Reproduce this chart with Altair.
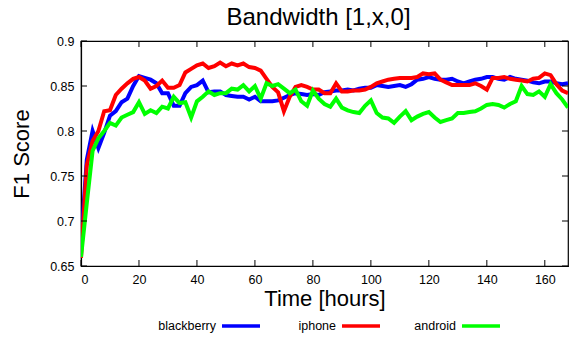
import altair as alt
import pandas as pd

hours = list(range(0, 169, 2))

blackberry = [0.676, 0.768, 0.800, 0.781, 0.798, 0.817, 0.822, 0.832, 0.836, 0.850,
              0.861, 0.859, 0.857, 0.853, 0.842, 0.842, 0.828, 0.828, 0.842, 0.849,
              0.851, 0.856, 0.843, 0.844, 0.844, 0.840, 0.839, 0.838, 0.838, 0.835,
              0.838, 0.833, 0.833, 0.833, 0.834, 0.837, 0.840, 0.842, 0.841, 0.840,
              0.841, 0.840, 0.843, 0.844, 0.845, 0.845, 0.846, 0.845, 0.847, 0.848,
              0.848, 0.851, 0.850, 0.849, 0.850, 0.851, 0.849, 0.852, 0.857, 0.858,
              0.860, 0.858, 0.857, 0.857, 0.858, 0.855, 0.853, 0.855, 0.857, 0.858,
              0.860, 0.860, 0.858, 0.857, 0.860, 0.858, 0.857, 0.856, 0.854, 0.853,
              0.855, 0.855, 0.853, 0.852, 0.853]

iphone = [0.659, 0.762, 0.789, 0.800, 0.822, 0.823, 0.840, 0.847, 0.853, 0.858,
          0.860, 0.856, 0.847, 0.850, 0.856, 0.848, 0.848, 0.851, 0.865, 0.869,
          0.873, 0.875, 0.870, 0.872, 0.876, 0.872, 0.875, 0.873, 0.875, 0.871,
          0.870, 0.867, 0.858, 0.849, 0.843, 0.822, 0.838, 0.849, 0.851, 0.849,
          0.846, 0.846, 0.842, 0.842, 0.853, 0.844, 0.844, 0.845, 0.845, 0.846,
          0.849, 0.853, 0.855, 0.857, 0.858, 0.859, 0.859, 0.859, 0.860, 0.864,
          0.863, 0.864, 0.857, 0.854, 0.851, 0.851, 0.851, 0.851, 0.853, 0.850,
          0.846, 0.859, 0.859, 0.860, 0.858, 0.857, 0.856, 0.855, 0.858, 0.859,
          0.864, 0.862, 0.852, 0.845, 0.842]

android = [0.660, 0.720, 0.778, 0.792, 0.800, 0.809, 0.806, 0.815, 0.818, 0.821,
           0.832, 0.819, 0.823, 0.820, 0.827, 0.825, 0.838, 0.831, 0.832, 0.815,
           0.833, 0.838, 0.844, 0.840, 0.842, 0.842, 0.847, 0.846, 0.851, 0.844,
           0.850, 0.836, 0.853, 0.850, 0.852, 0.847, 0.842, 0.846, 0.833, 0.828,
           0.845, 0.836, 0.830, 0.827, 0.836, 0.826, 0.823, 0.821, 0.820, 0.828,
           0.834, 0.820, 0.815, 0.814, 0.809, 0.816, 0.822, 0.812, 0.816, 0.819,
           0.821, 0.815, 0.810, 0.812, 0.814, 0.820, 0.820, 0.821, 0.822, 0.825,
           0.829, 0.830, 0.829, 0.826, 0.830, 0.833, 0.850, 0.841, 0.840, 0.844,
           0.838, 0.852, 0.842, 0.835, 0.826]

series_names = ["blackberry", "iphone", "android"]
series_colors = ["#0000ff", "#ff0000", "#00ff00"]
x_ticks = [0, 20, 40, 60, 80, 100, 120, 140, 160]
y_ticks = [0.65, 0.7, 0.75, 0.8, 0.85, 0.9]

FONT = "Liberation Sans"
W, H = 487, 225

rows = []
for name, vals in zip(series_names, [blackberry, iphone, android]):
    for h, v in zip(hours, vals):
        rows.append({"hour": h, "f1": v, "device": name})
df = pd.DataFrame(rows)

xscale = alt.Scale(domain=[0, 168], nice=False, zero=False)
yscale = alt.Scale(domain=[0.65, 0.9], nice=False, zero=False)

lines = alt.Chart(df).mark_line(strokeWidth=4, clip=True).encode(
    x=alt.X("hour:Q", scale=xscale,
            axis=alt.Axis(values=x_ticks, title="Time [hours]", tickSize=0,
                          labelPadding=7, grid=False, titleFontSize=22,
                          titlePadding=3, titleFontWeight="normal")),
    y=alt.Y("f1:Q", scale=yscale,
            axis=alt.Axis(values=y_ticks, title="F1 Score", tickSize=0,
                          labelPadding=7, grid=False, titleFontSize=22,
                          titlePadding=16, titleFontWeight="normal",
                          labelExpr="datum.value == 0.9 ? '0.9' : format(datum.value, '.2~f')")),
    color=alt.Color("device:N", scale=alt.Scale(domain=series_names, range=series_colors),
                    legend=None),
    order=alt.Order("hour:Q"),
)

xt = pd.DataFrame({"t": x_ticks})
yt = pd.DataFrame({"t": y_ticks})
tick_style = dict(color="black", strokeWidth=1)
bottom_ticks = alt.Chart(xt).mark_rule(**tick_style).encode(
    x=alt.X("t:Q", scale=xscale), y=alt.value(H), y2=alt.value(H - 6))
top_ticks = alt.Chart(xt).mark_rule(**tick_style).encode(
    x=alt.X("t:Q", scale=xscale), y=alt.value(0), y2=alt.value(6))
left_ticks = alt.Chart(yt).mark_rule(**tick_style).encode(
    y=alt.Y("t:Q", scale=yscale), x=alt.value(0), x2=alt.value(6))
right_ticks = alt.Chart(yt).mark_rule(**tick_style).encode(
    y=alt.Y("t:Q", scale=yscale), x=alt.value(W), x2=alt.value(W - 6))

legend_df = pd.DataFrame({"device": series_names})
legend_layers = []
for i, (name, col) in enumerate(zip(series_names, series_colors)):
    base = alt.Chart(legend_df).transform_filter(alt.datum.device == name)
    right = 135 + 120 * i
    legend_layers.append(base.mark_text(align="right", baseline="middle", fontSize=12.5,
                                        font=FONT, color="black").encode(
        text="device:N", x=alt.value(right), y=alt.value(285)))
    legend_layers.append(base.mark_rule(color=col, strokeWidth=3.5).encode(
        x=alt.value(right + 6), x2=alt.value(right + 44), y=alt.value(285)))

chart = alt.layer(lines, bottom_ticks, top_ticks, left_ticks, right_ticks,
                  *legend_layers).properties(
    width=W, height=H,
    background="white",
    title=alt.Title("Bandwidth [1,x,0]", fontSize=24, fontWeight="normal", font=FONT,
                    anchor="middle", offset=5, dx=-6, color="black"),
    autosize=alt.AutoSizeParams(type="none"),
    padding={"left": 81, "top": 41, "right": 6, "bottom": 77},
).configure_view(stroke="black", strokeWidth=1.2).configure_axis(
    labelFont=FONT, titleFont=FONT, labelFontSize=12.5, labelColor="black",
    titleColor="black", domainColor="black", domainWidth=1.2
)

chart.save("out.html", embed_options={"renderer": "svg", "actions": False})
